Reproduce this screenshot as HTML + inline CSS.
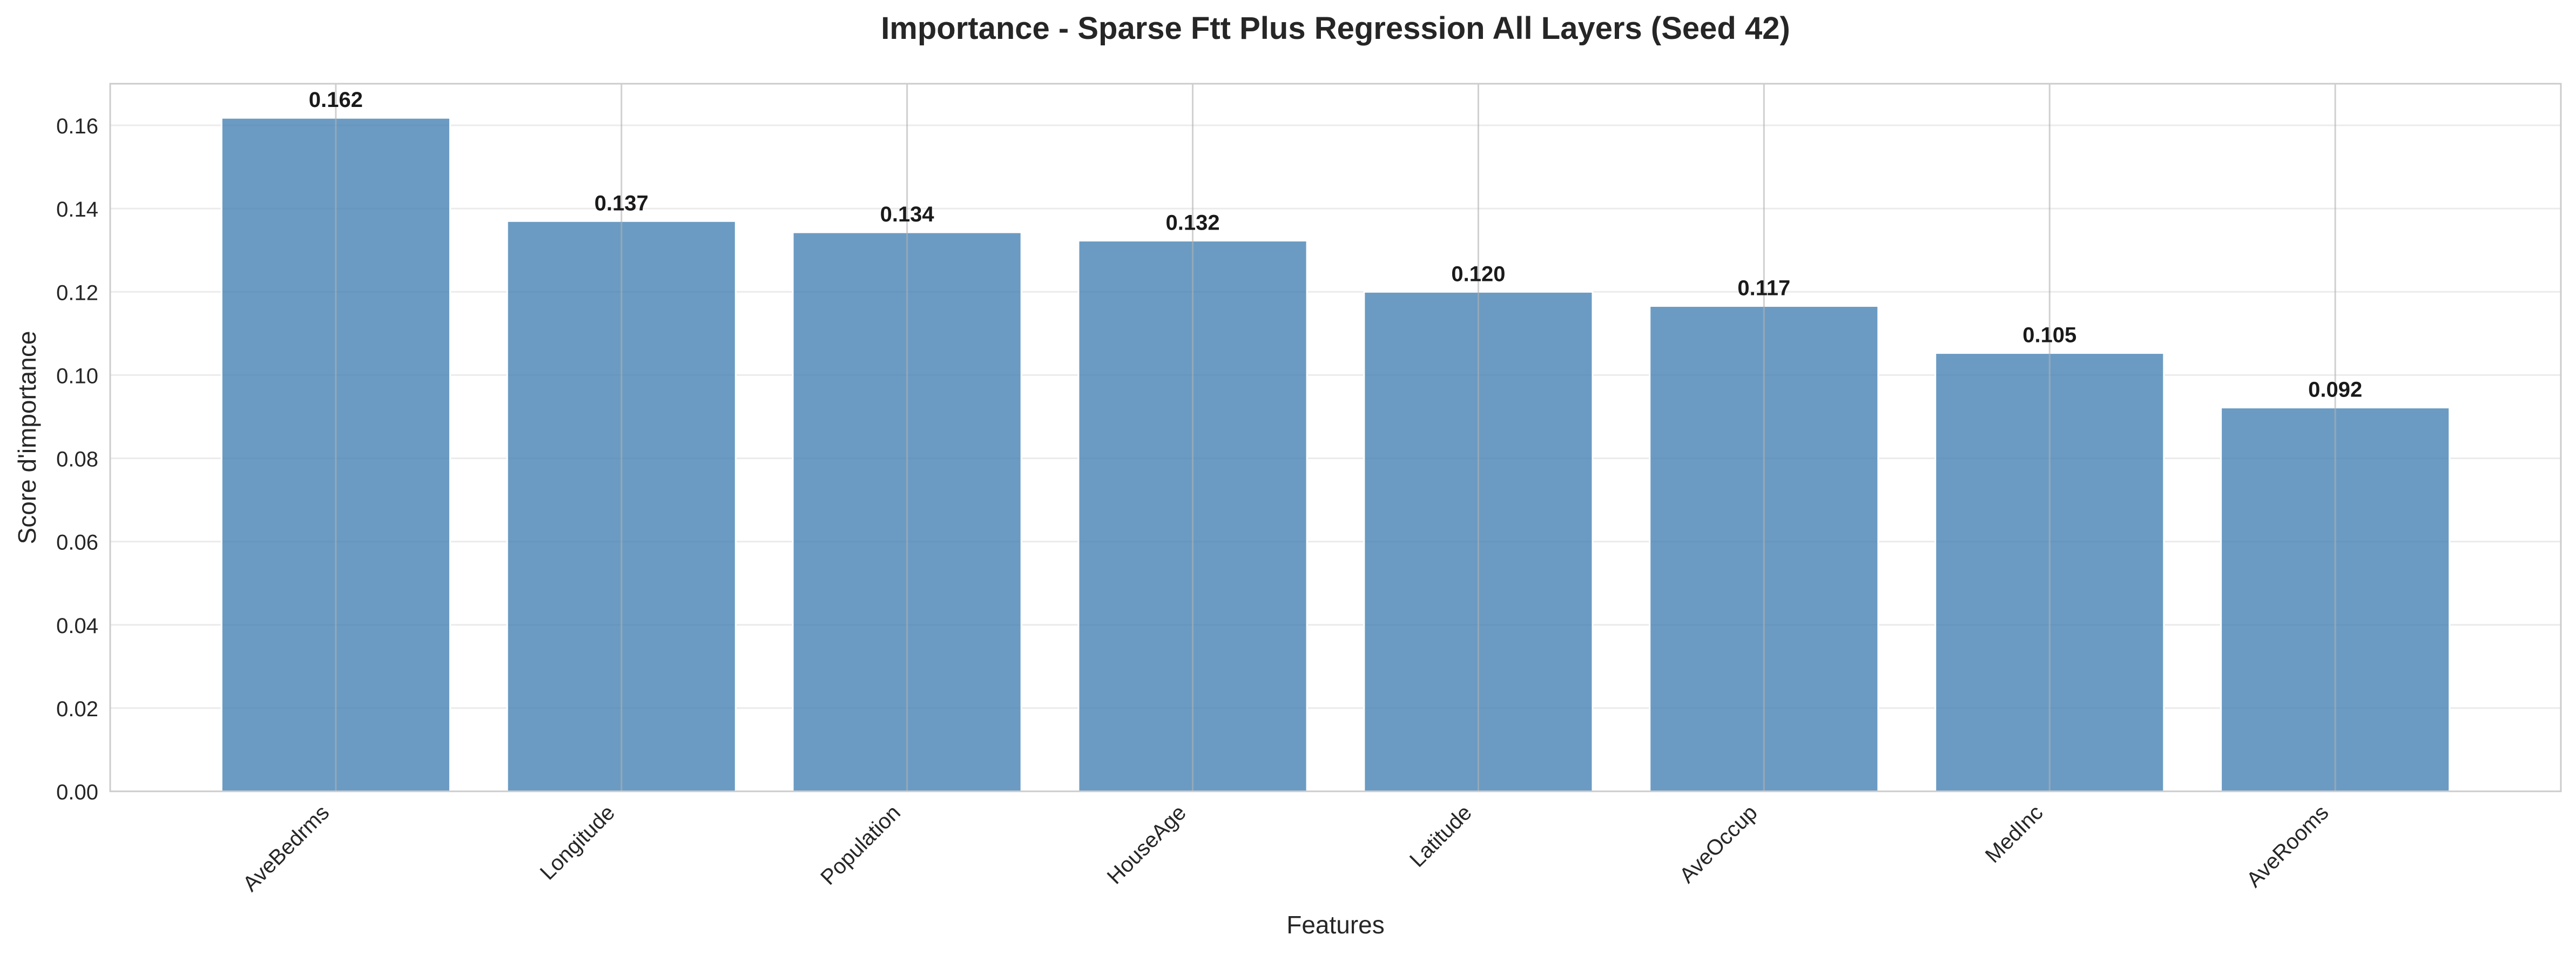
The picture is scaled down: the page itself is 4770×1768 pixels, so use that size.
<!DOCTYPE html>
<html><head><meta charset="utf-8"><style>
html,body{margin:0;padding:0;background:#fff}
svg{display:block;font-family:"Liberation Sans",Arial,sans-serif}
</style></head><body>
<svg id="chart" width="4770" height="1768" viewBox="0 0 4770 1768">
<rect x="0" y="0" width="4770" height="1768" fill="#fff"/>
<text x="2473" y="72" text-anchor="middle" font-size="58" font-weight="bold" fill="#262626">Importance - Sparse Ftt Plus Regression All Layers (Seed 42)</text>
<g id="grid-h"></g>
<g id="bars"></g>
<g id="grid-v"></g>
<g id="labels"></g>
<rect x="204" y="155" width="4538" height="1310" fill="none" stroke="#cccccc" stroke-width="3"/>
<g id="yticks"></g>
<g id="xticks"></g>
<text transform="translate(66,810) rotate(-90)" text-anchor="middle" font-size="46" fill="#262626">Score d'importance</text>
<text x="2473" y="1728" text-anchor="middle" font-size="46" fill="#262626">Features</text>
</svg>
<script>
const categories = ["AveBedrms","Longitude","Population","HouseAge","Latitude","AveOccup","MedInc","AveRooms"];
const values = [0.1618,0.1370,0.1343,0.1323,0.1200,0.1166,0.1053,0.0922];
const yTicks = [0,0.02,0.04,0.06,0.08,0.10,0.12,0.14,0.16];

const NS="http://www.w3.org/2000/svg";
const L=204,R=4742,T=155,B=1465;
const xMin=-0.79,xMax=7.79,yMin=0,yMax=0.17;
function xs(i){return L+(i-xMin)/(xMax-xMin)*(R-L);}
function ys(v){return B-(v-yMin)/(yMax-yMin)*(B-T);}
function mk(tag,attrs,parent){const e=document.createElementNS(NS,tag);for(const k in attrs)e.setAttribute(k,attrs[k]);parent.appendChild(e);return e;}
const gh=document.getElementById('grid-h'),gb=document.getElementById('bars'),gv=document.getElementById('grid-v'),gl=document.getElementById('labels'),gy=document.getElementById('yticks'),gx=document.getElementById('xticks');
const pxPerUnit=(R-L)/(xMax-xMin);
yTicks.forEach((t)=>{
  const y=ys(t);
  const ln=mk('line',{x1:L,x2:R,y1:y,y2:y,stroke:'#ebebeb','stroke-width':3},gh);
  
  
  const tx=mk('text',{x:L-22,y:y+15,'text-anchor':'end','font-size':40,fill:'#262626'},gy);
  tx.textContent=t.toFixed(2);
  
  
});
categories.forEach((c,i)=>{
  const cx=xs(i),w=0.8*pxPerUnit,v=values[i];
  const r=mk('rect',{x:cx-w/2,y:ys(v),width:w,height:ys(0)-ys(v),fill:'steelblue','fill-opacity':0.8,stroke:'#ffffff','stroke-width':3},gb);
  
  
  const ln=mk('line',{x1:cx,x2:cx,y1:T,y2:B,stroke:'#b0b0b0','stroke-opacity':0.6,'stroke-width':3},gv);
  
  
  const lb=mk('text',{x:cx,y:ys(v)-20,'text-anchor':'middle','font-size':40,'font-weight':'bold',fill:'#1a1a1a'},gl);
  lb.textContent=v.toFixed(3);
  
  
  const xt=mk('text',{transform:'translate('+(cx-10)+','+(B+42)+') rotate(-45)','text-anchor':'end','font-size':40,fill:'#262626'},gx);
  xt.textContent=c;
  
  
});
</script>
</body></html>
